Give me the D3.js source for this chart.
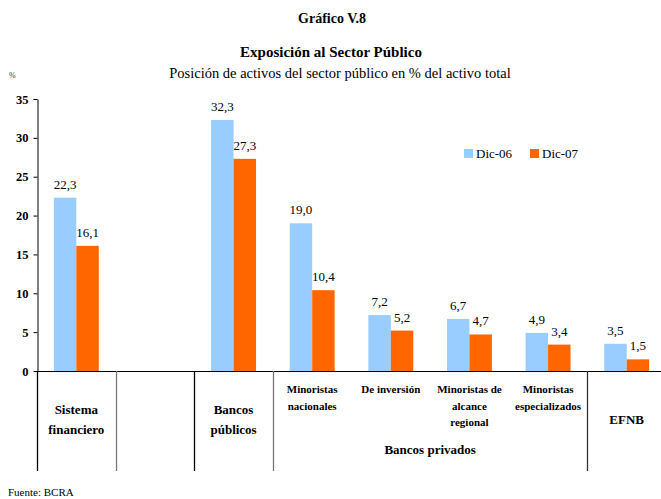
<!DOCTYPE html>
<html><head><meta charset="utf-8">
<script src="https://cdn.jsdelivr.net/npm/d3@7"></script>
<style>body{margin:0;background:#fff}svg{display:block}svg text{font-family:"Liberation Serif","Times New Roman",Times,serif}</style>
</head><body>
<script>
const categories = ["sf","blank","bp","mn","di","mar","me","efnb"];
const categoryLabels = [["Sistema","financiero"],[],["Bancos","públicos"],["Minoristas","nacionales"],["De inversión"],["Minoristas de","alcance","regional"],["Minoristas","especializados"],["EFNB"]];
const series = ["Dic-06","Dic-07"];
const dic06 = [22.3, null, 32.3, 19.0, 7.2, 6.7, 4.9, 3.5];
const dic07 = [16.1, null, 27.3, 10.4, 5.2, 4.7, 3.4, 1.5];
const yTicks = [0,5,10,15,20,25,30,35];
const colors = ["#99CCFF","#FF6600"];

const W=661,H=499;
const svg=d3.select("body").append("svg").attr("width",W).attr("height",H);

const y=d3.scaleLinear().domain([0,35]).range([371,99]);
const x0=d3.scaleBand().domain(categories).range([37,666]).padding(0);
const bw=x0.bandwidth();
const x1=d3.scaleBand().domain(series).range([0,bw]).paddingInner(0).paddingOuter(0.75);

function t(x,yy,str,fs,bold,anchor){
  return svg.append("text").attr("x",x).attr("y",yy).attr("text-anchor",anchor||"middle")
    .style("font-size",fs+"px").style("font-weight",bold?"bold":"normal").attr("fill","#000").text(str);
}

// titles
t(332,23,"Gráfico V.8",14,true);
t(331,57,"Exposición al Sector Público",15,true);
t(340,78,"Posición de activos del sector público en % del activo total",14.5,false);
t(9,78,"%",8,false,"start").attr("fill","#333");

// y axis
const yAxis=d3.axisLeft(y).tickValues(yTicks).tickSize(4).tickSizeOuter(0);
const ga=svg.append("g").attr("transform","translate(37.5,0)").call(yAxis);
ga.attr("font-family",null).attr("font-size",null);
ga.select(".domain").attr("stroke","#000");
ga.selectAll("text").style("font-weight","bold").style("font-size","12.5px").attr("fill","#000").attr("x",-9);

// bars
const data=[dic06,dic07];
series.forEach((s,si)=>{
  categories.forEach((c,ci)=>{
    const v=data[si][ci];
    if(v==null) return;
    const bx=x0(c)+x1(s);
    svg.append("rect").attr("x",bx).attr("y",y(v)).attr("width",x1.bandwidth()).attr("height",y(0)-y(v)).attr("fill",colors[si]);
    t(bx+x1.bandwidth()/2,y(v)-9,d3.format(".1f")(v).replace(".",","),13,false);
  });
});

// x axis line
svg.append("line").attr("x1",37).attr("x2",661).attr("y1",371.5).attr("y2",371.5).attr("stroke","#000");

// separators
const seps=[{c:"sf",col:"#000"},{c:"blank",col:"#777"},{c:"bp",col:"#000"},{c:"mn",col:"#777"},{c:"efnb",col:"#333"}];
seps.forEach(s=>{
  const xx=Math.round(x0(s.c))+0.5;
  svg.append("line").attr("x1",xx).attr("x2",xx).attr("y1",371).attr("y2",471).attr("stroke",s.col).attr("stroke-width",1.3);
});

// category labels
const big=new Set(["sf","bp","efnb"]);
categories.forEach((c,ci)=>{
  const lines=categoryLabels[ci];
  if(!lines.length) return;
  const cx=x0(c)+bw/2;
  let startY, fs, lh;
  if(big.has(c)){ fs=13; lh=20; startY = 424 - (lines.length-1)*lh/2; }
  else { fs=11; lh=16.5; startY = 393; }
  lines.forEach((l,li)=>{ t(cx,startY+li*lh,l,fs,true); });
});
t((x0("mn")+x0("efnb"))/2,454,"Bancos privados",13,true);

// legend
const lx=[464,530];
series.forEach((s,i)=>{
  svg.append("rect").attr("x",lx[i]).attr("y",149).attr("width",9).attr("height",9).attr("fill",colors[i]);
  t(lx[i]+12,158,s,13,false,"start");
});

// source
t(8,496,"Fuente: BCRA",11,false,"start");
</script>
</body></html>
